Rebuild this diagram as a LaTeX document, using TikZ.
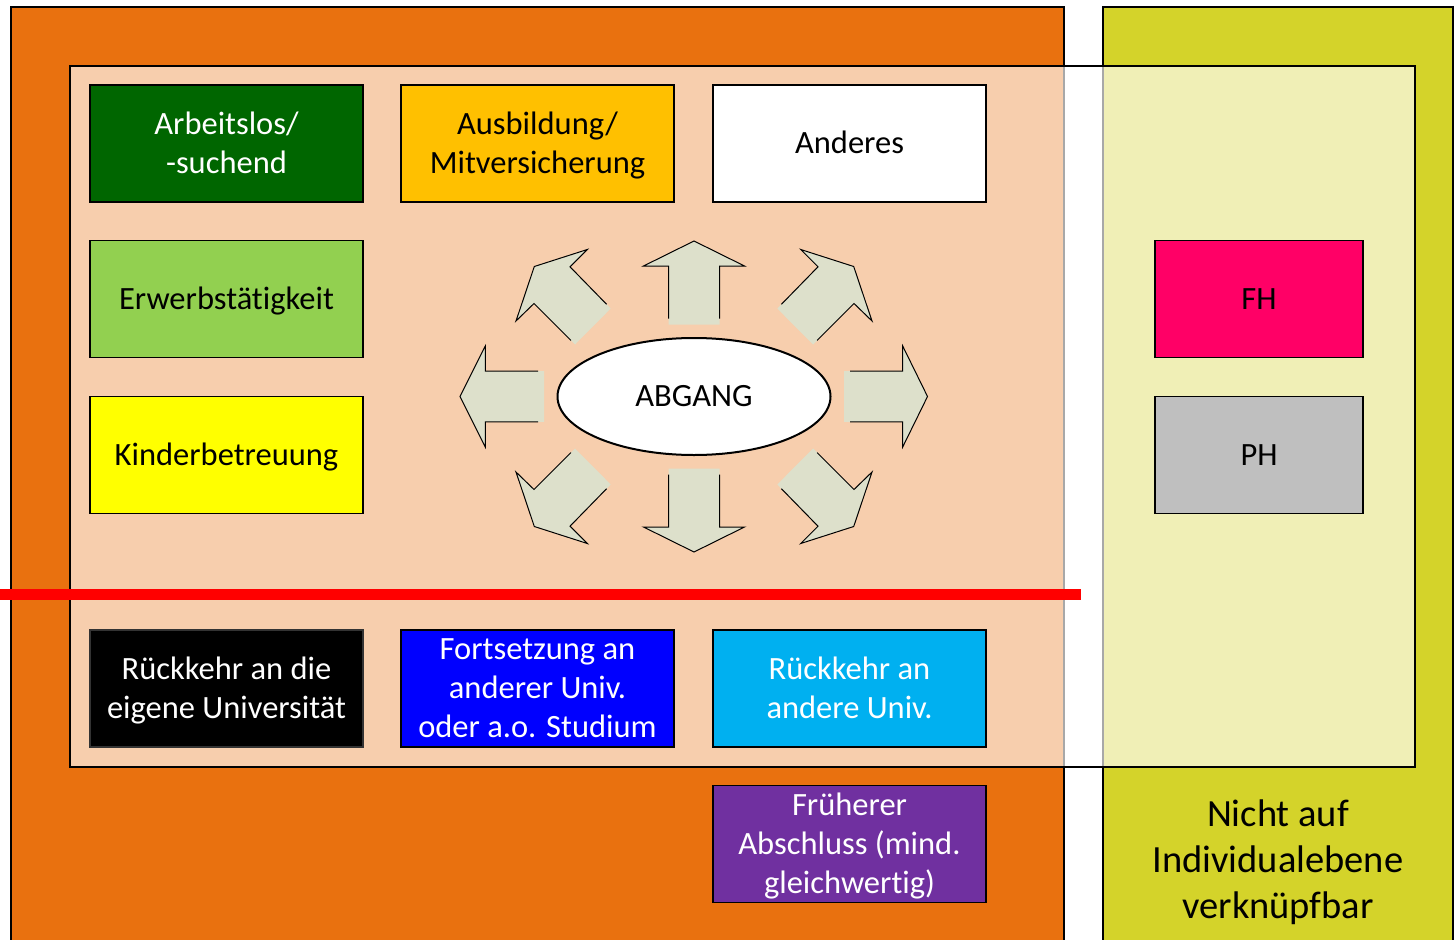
\documentclass[tikz,border=0pt]{standalone}
\usepackage{fontspec}
\setmainfont[Ligatures={NoCommon}]{Carlito}
\definecolor{outerorange}{HTML}{E9710F}
\definecolor{outeryellow}{HTML}{D4D32A}
\definecolor{dkgreen}{HTML}{006600}
\definecolor{ambre}{HTML}{FFC000}
\definecolor{ltgreen}{HTML}{92D050}
\definecolor{pureyellow}{HTML}{FFFF00}
\definecolor{pureblue}{HTML}{0000FF}
\definecolor{cyanbox}{HTML}{00B0F0}
\definecolor{purplebox}{HTML}{7030A0}
\definecolor{fhpink}{HTML}{FF0066}
\definecolor{phgray}{HTML}{BFBFBF}
\definecolor{arrowfill}{HTML}{DDE0CB}
\newcommand\bs{\rule[-9.1pt]{0pt}{39pt}}
\begin{document}
\begin{tikzpicture}[x=1pt,y=-1pt,
  catbox/.style={draw=black, line width=1.5pt, minimum width=273pt, minimum height=117pt,
    inner sep=0pt, align=center, font=\fontsize{32.5}{39}\selectfont},
  sidebox/.style={catbox, minimum width=208pt},
  arrfill/.style={fill=arrowfill, draw=none},
  arrline/.style={draw=black, line width=1pt, line join=miter}]
\useasboundingbox (0,0) rectangle (1455,939);
\clip (0,0) rectangle (1455,939);
% background frames
\draw[fill=outerorange, line width=2pt] (11,7) -- (11,950) -- (1064,950) -- (1064,7) -- cycle;
\draw[fill=outeryellow, line width=2pt] (1103,7) -- (1103,950) -- (1453,950) -- (1453,7) -- cycle;
% translucent overlay
\fill[white, opacity=0.66] (70,66) rectangle (1415,767);
\draw[line width=2pt] (70,66) rectangle (1415,767);
% red divider
\draw[red, line width=11pt] (0,594) -- (1081,594);
% boxes
\node[catbox, fill=dkgreen, text=white] (arb) at (226.5,143.5) {\bs Arbeitslos/\\-suchend\bs};
\node[catbox, fill=ambre] (ausb) at (537.5,143.5) {\bs Ausbildung/\\Mitversicherung\bs};
\node[catbox, fill=white] (and) at (849.5,143.5) {\bs Anderes};
\node[catbox, fill=ltgreen] (erw) at (226.5,299) {\bs Erwerbstätigkeit};
\node[catbox, fill=pureyellow] (kind) at (226.5,455) {\bs Kinderbetreuung};
\node[catbox, fill=black, draw=black!80, text=white] (rueck) at (226.5,688.5) {\bs Rückkehr an die\\eigene Universität\bs};
\node[catbox, fill=pureblue, text=white] (forts) at (537.5,688.5) {\bs Fortsetzung an\\anderer Univ.\\oder a.o. Studium\bs};
\node[catbox, fill=cyanbox, text=white] (rueckand) at (849.5,688.5) {\bs Rückkehr an\\andere Univ.\bs};
\node[catbox, fill=purplebox, text=white] (frueh) at (849.5,844) {\bs Früherer\\Abschluss (mind.\\gleichwertig)\bs};
\node[sidebox, fill=fhpink] (fh) at (1259,299) {\bs FH};
\node[sidebox, fill=phgray] (ph) at (1259,455) {\bs PH};
\node[align=center, font=\fontsize{38.5}{46}\selectfont] (nicht) at (1278,862) {Nicht auf\\Individualebene\\verknüpfbar};
% arrows around ABGANG
\begin{scope}[shift={(694,396.5)}]
  % up
  \fill[arrfill] (-25.5,-72) -- (-25.5,-130.5) -- (-50.5,-130.5) -- (0,-155.5) -- (50.5,-130.5) -- (25.5,-130.5) -- (25.5,-72) -- cycle;
  \draw[arrline] (-25.5,-78) -- (-25.5,-130.5) -- (-50.5,-130.5) -- (0,-155.5) -- (50.5,-130.5) -- (25.5,-130.5) -- (25.5,-78);
  % down
  \fill[arrfill] (-25.5,72) -- (-25.5,130.5) -- (-50.5,130.5) -- (0,155.5) -- (50.5,130.5) -- (25.5,130.5) -- (25.5,72) -- cycle;
  \draw[arrline] (-25.5,78) -- (-25.5,130.5) -- (-50.5,130.5) -- (0,155.5) -- (50.5,130.5) -- (25.5,130.5) -- (25.5,78);
  % left
  \fill[arrfill] (-150,-25.4) -- (-208.7,-25.4) -- (-208.7,-50.5) -- (-234,0) -- (-208.7,50.5) -- (-208.7,25.4) -- (-150,25.4) -- cycle;
  \draw[arrline] (-156,-25.4) -- (-208.7,-25.4) -- (-208.7,-50.5) -- (-234,0) -- (-208.7,50.5) -- (-208.7,25.4) -- (-156,25.4);
  % right
  \fill[arrfill] (150,-25.4) -- (208.7,-25.4) -- (208.7,-50.5) -- (233.5,0) -- (208.7,50.5) -- (208.7,25.4) -- (150,25.4) -- cycle;
  \draw[arrline] (156,-25.4) -- (208.7,-25.4) -- (208.7,-50.5) -- (233.5,0) -- (208.7,50.5) -- (208.7,25.4) -- (156,25.4);
  % diagonals
  \foreach \sx/\sy in {1/1,-1/1,1/-1,-1/-1}{
    \begin{scope}[xscale=\sx, yscale=\sy]
      \fill[arrfill] (-178,-75.5) -- (-159.7,-130) -- (-106.7,-147) -- (-124,-129.7) -- (-83.3,-88) -- (-119,-52) -- (-160,-93) -- cycle;
      \draw[arrline] (-87.4,-92.2) -- (-124,-129.7) -- (-106.7,-147) -- (-159.7,-130) -- (-178,-75.5) -- (-160,-93) -- (-123.1,-56.1);
    \end{scope}
  }
\end{scope}
% ellipse
\draw[line width=2pt, fill=white] (694,396.5) ellipse [x radius=136.5, y radius=58.5];
\node[font=\fontsize{32.5}{39}\selectfont] (abgang) at (694,396.5) {\bs ABGANG};
\end{tikzpicture}
\end{document}
